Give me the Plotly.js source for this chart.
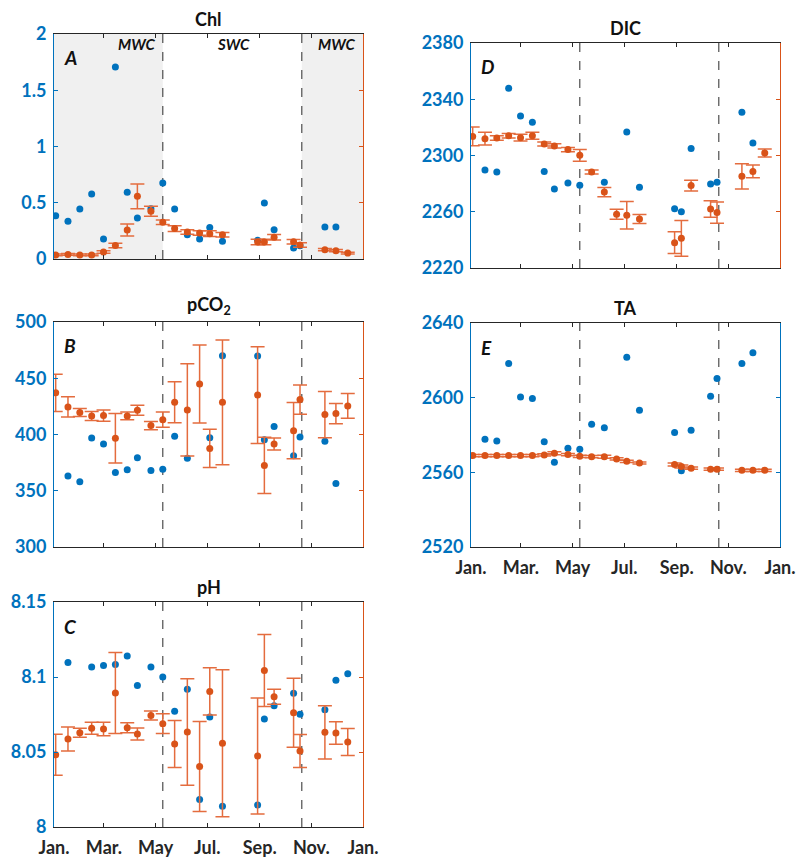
<!DOCTYPE html>
<html>
<head>
<meta charset="utf-8">
<script src="https://cdn.plot.ly/plotly-3.0.1.min.js"></script>
<style>html,body{margin:0;padding:0;background:#fff;}#chart{width:798px;height:860px;}</style>
</head>
<body>
<div id="chart"></div>
<script>
// ---------------- DATA ----------------
const monthTickDays = [0, 59, 120, 181, 243, 304, 365];
const monthTickText = ['Jan.', 'Mar.', 'May', 'Jul.', 'Sep.', 'Nov.', 'Jan.'];
const seasonBreaks = [128.5, 292.7];

// model/climatology days (orange, mean ± sd)
const orangeDays = [2, 16.5, 30.5, 44.5, 58.5, 72.5, 86.5, 98.5, 114.5, 128.5, 142.5, 157.5, 172, 184, 199, 240.5, 248.5, 260, 283, 290.6, 320, 333, 347];

// Chl
const chlDays = [2, 16.5, 30.5, 44.5, 58.5, 72.5, 86.5, 98.5, 114.5, 128.5, 142.5, 157.5, 172, 184, 199, 240.5, 248.5, 260, 283, 290.6, 320, 333];
const chlObs = [0.385, 0.335, 0.444, 0.578, 0.178, 1.707, 0.593, 0.364, 0.447, 0.676, 0.444, 0.216, 0.178, 0.279, 0.157, 0.166, 0.498, 0.26, 0.098, 0.118, 0.284, 0.284];
const chlMean = [0.036, 0.041, 0.036, 0.036, 0.062, 0.119, 0.258, 0.557, 0.424, 0.326, 0.27, 0.24, 0.231, 0.225, 0.216, 0.151, 0.151, 0.193, 0.154, 0.124, 0.083, 0.074, 0.053];
const chlSd = [0.008, 0.008, 0.008, 0.008, 0.012, 0.02, 0.053, 0.11, 0.045, 0.02, 0.025, 0.02, 0.02, 0.025, 0.02, 0.025, 0.025, 0.025, 0.02, 0.02, 0.01, 0.01, 0.008];

// pCO2
const pco2Days = [16.5, 30.5, 44.5, 58.5, 72.5, 86.5, 98.5, 114.5, 128.5, 142.5, 157.5, 184, 199, 240.5, 248.5, 260, 283, 290.6, 320, 333];
const pco2Obs = [363, 358, 396.9, 391.5, 366.3, 368.6, 379.3, 368, 369.2, 398.5, 378.8, 397, 470, 469.7, 395.4, 407, 381.1, 397.8, 393.9, 356.5];
const pco2Mean = [437, 424.5, 419.5, 416.5, 416.8, 396.6, 416.5, 421.5, 407.9, 413.2, 428.6, 421.8, 444.9, 387.6, 428.6, 435, 372.5, 391.5, 403.4, 431, 417.7, 418.6, 425.4];
const pco2Sd = [16.5, 9, 3.5, 4, 5, 22, 3.5, 4.5, 3.7, 6.8, 18.2, 41, 34.7, 17, 55.5, 43, 25, 5.3, 25, 13, 20.6, 9, 11];

// pH
const phDays = [16.5, 44.5, 58.5, 72.5, 86.5, 98.5, 114.5, 128.5, 142.5, 157.5, 172, 184, 199, 240.5, 248.5, 260, 283, 290.6, 320, 333, 347];
const phObs = [8.1096, 8.1067, 8.1076, 8.1084, 8.114, 8.0944, 8.1067, 8.1, 8.0771, 8.0918, 8.0184, 8.0733, 8.0138, 8.0147, 8.072, 8.0809, 8.0891, 8.0751, 8.0782, 8.0978, 8.1022];
const phMean = [8.0482, 8.0587, 8.0629, 8.0658, 8.0653, 8.0893, 8.0662, 8.062, 8.0744, 8.0689, 8.0553, 8.0633, 8.0404, 8.0904, 8.0558, 8.0473, 8.1044, 8.0869, 8.0762, 8.0507, 8.0631, 8.0627, 8.0567];
const phSd = [0.0137, 0.008, 0.003, 0.004, 0.0045, 0.027, 0.0033, 0.004, 0.003, 0.0066, 0.0157, 0.0355, 0.03, 0.0157, 0.049, 0.0387, 0.024, 0.005, 0.023, 0.011, 0.0178, 0.0075, 0.009];

// DIC
const dicDays = [16.5, 30.5, 44.5, 58.5, 72.5, 86.5, 98.5, 114.5, 128.5, 157.5, 184, 199, 240.5, 248.5, 260, 283, 290.6, 320, 333];
const dicObs = [2289.7, 2288.3, 2347.8, 2328.1, 2323.6, 2288.7, 2276.2, 2280.4, 2278.8, 2280.9, 2316.7, 2277.4, 2262.2, 2260, 2304.9, 2279.7, 2280.9, 2330.7, 2308.9];
const dicMean = [2313.6, 2312, 2312.4, 2314.1, 2312.7, 2314.1, 2308.2, 2306.8, 2304.2, 2300.1, 2288.3, 2274, 2258.2, 2257.5, 2254.9, 2238, 2241.1, 2278.6, 2262, 2259.4, 2285.2, 2288.7, 2301.8];
const dicSd = [6.6, 4.5, 1.6, 1.6, 2.4, 2.5, 1.4, 1.5, 1.5, 4.2, 1.4, 3.3, 3.6, 9.8, 3.2, 7.7, 12.7, 3.8, 5.9, 7.6, 9, 4.5, 2.8];

// TA
const taDays = [16.5, 30.5, 44.5, 58.5, 72.5, 86.5, 98.5, 114.5, 128.5, 142.5, 157.5, 184, 199, 240.5, 248.5, 260, 283, 290.6, 320, 333];
const taObs = [2577.7, 2576.8, 2618.3, 2600.3, 2599.6, 2576.4, 2565.4, 2572.9, 2572.3, 2585.7, 2583.9, 2621.7, 2593.2, 2581.4, 2560.8, 2582.5, 2600.7, 2610.3, 2618.3, 2624];
const taMean = [2569, 2569, 2569, 2569, 2569, 2569, 2569.3, 2570.2, 2569.5, 2568.6, 2568.4, 2568.4, 2567.2, 2565.9, 2565, 2564.2, 2563.1, 2562.2, 2561.7, 2561.7, 2561.1, 2561.1, 2561.1];
const taSd = [0.6, 0.6, 0.6, 0.6, 0.6, 0.6, 0.6, 0.8, 0.6, 0.6, 0.6, 0.8, 0.6, 0.6, 0.6, 0.8, 0.8, 0.6, 0.6, 0.6, 0.6, 0.6, 0.6];

const chlTicks = [0, 0.5, 1, 1.5, 2];
const chlTickText = ['0', '0.5', '1', '1.5', '2'];
const pco2Ticks = [300, 350, 400, 450, 500];
const phTicks = [8, 8.05, 8.1, 8.15];
const phTickText = ['8', '8.05', '8.1', '8.15'];
const dicTicks = [2220, 2260, 2300, 2340, 2380];
const taTicks = [2520, 2560, 2600, 2640];

// ---------------- STYLE / LAYOUT ----------------
const W = 798, H = 860;
const BLUE = '#0072BD', ORANGE = '#D95319', ERRC = '#E46C3E', DARK = '#262626';
const FONT = 'Lato, "Open Sans", sans-serif';
const px = v => v / W;
const py = v => 1 - v / H;

const panels = [
  {key: 'A', title: 'Chl', days: chlDays, obs: chlObs, mean: chlMean, sd: chlSd, range: [0, 2], ticks: chlTicks, tickText: chlTickText,
   box: [54, 363, 34, 259], months: false, rightColor: ORANGE},
  {key: 'B', title: 'pCO<sub>2</sub>', days: pco2Days, obs: pco2Obs, mean: pco2Mean, sd: pco2Sd, range: [300, 500], ticks: pco2Ticks, tickText: pco2Ticks.map(String),
   box: [54, 363, 322, 547], months: false, rightColor: ORANGE},
  {key: 'C', title: 'pH', days: phDays, obs: phObs, mean: phMean, sd: phSd, range: [8, 8.15], ticks: phTicks, tickText: phTickText,
   box: [54, 363, 602, 827], months: true, rightColor: ORANGE},
  {key: 'D', title: 'DIC', days: dicDays, obs: dicObs, mean: dicMean, sd: dicSd, range: [2220, 2380], ticks: dicTicks, tickText: dicTicks.map(String),
   box: [471, 780, 43, 268], months: false, rightColor: ORANGE},
  {key: 'E', title: 'TA', days: taDays, obs: taObs, mean: taMean, sd: taSd, range: [2520, 2640], ticks: taTicks, tickText: taTicks.map(String),
   box: [471, 780, 323, 547], months: true, rightColor: BLUE}
];

const traces = [];
const layout = {
  width: W, height: H,
  margin: {l: 0, r: 0, t: 0, b: 0},
  paper_bgcolor: '#fff', plot_bgcolor: 'rgba(0,0,0,0)',
  showlegend: false,
  font: {family: FONT, color: DARK},
  shapes: [], annotations: []
};

panels.forEach((p, i) => {
  const n = i + 1;
  const xs = n === 1 ? '' : String(n);
  const ys = n === 1 ? '' : String(n);
  const ovN = n + 5;
  const [x0, x1, y0, y1] = p.box;

  layout['xaxis' + xs] = {
    domain: [px(x0), px(x1)], anchor: 'y' + ys, range: [0, 365],
    tickvals: monthTickDays, ticktext: monthTickText, showticklabels: p.months,
    ticks: 'inside', ticklen: 4, tickwidth: 1, tickcolor: DARK,
    showline: true, linecolor: DARK, linewidth: 1, mirror: 'ticks',
    showgrid: false, zeroline: false, fixedrange: true,
    ticklabelstandoff: 4,
    tickfont: {family: FONT, size: 18, color: DARK, weight: 'bold'}
  };
  layout['yaxis' + ys] = {
    domain: [py(y1), py(y0)], anchor: 'x' + xs, range: p.range,
    tickvals: p.ticks, ticktext: p.tickText,
    ticks: 'inside', ticklen: 4, tickwidth: 1, tickcolor: BLUE,
    showline: true, linecolor: BLUE, linewidth: 1, mirror: p.rightColor === BLUE ? 'ticks' : false,
    showgrid: false, zeroline: false, fixedrange: true,
    ticklabelstandoff: 3,
    tickfont: {family: FONT, size: 18, color: BLUE, weight: 'bold'}
  };
  let orangeY = 'y' + ys;
  if (p.rightColor === ORANGE) {
    layout['yaxis' + ovN] = {
      overlaying: 'y' + ys, anchor: 'x' + xs, side: 'right', range: p.range,
      tickvals: p.ticks, showticklabels: false,
      ticks: 'inside', ticklen: 4, tickwidth: 1, tickcolor: ORANGE,
      showline: true, linecolor: ORANGE, linewidth: 1,
      showgrid: false, zeroline: false, fixedrange: true
    };
    orangeY = 'y' + ovN;
  }

  // season shading (Chl panel only)
  if (n === 1) {
    [[0, seasonBreaks[0]], [seasonBreaks[1], 365]].forEach(([a, b]) => {
      layout.shapes.push({type: 'rect', xref: 'x', yref: 'y domain', x0: a, x1: b, y0: 0, y1: 1,
        fillcolor: '#f0f0f0', line: {width: 0}, layer: 'below'});
    });
  }
  seasonBreaks.forEach(d => {
    layout.shapes.push({type: 'line', xref: 'x' + xs, yref: 'y' + ys + ' domain', x0: d, x1: d, y0: 0, y1: 1,
      line: {color: '#4d4d4d', width: 1.2, dash: 'dash'}, layer: 'below'});
  });

  traces.push({
    type: 'scatter', mode: 'markers', x: p.days, y: p.obs, xaxis: 'x' + xs, yaxis: 'y' + ys,
    marker: {color: BLUE, size: 7}, hoverinfo: 'skip'
  });
  traces.push({
    type: 'scatter', mode: 'markers', x: orangeDays, y: p.mean, xaxis: 'x' + xs, yaxis: orangeY,
    marker: {color: ORANGE, size: 7},
    error_y: {type: 'data', array: p.sd, visible: true, color: ERRC, thickness: 1.5, width: 7},
    hoverinfo: 'skip'
  });

  // title
  layout.annotations.push({xref: 'paper', yref: 'paper', x: px((x0 + x1) / 2), y: py(y0 - 2),
    xanchor: 'center', yanchor: 'bottom', showarrow: false, text: p.title,
    font: {family: FONT, size: 18, color: '#111', weight: 'bold'}});
  // panel letter
  layout.annotations.push({xref: 'paper', yref: 'paper', x: px(x0 + 8), y: py(y0 + 24),
    xanchor: 'left', yanchor: 'middle', showarrow: false, text: '<i>' + p.key + '</i>',
    font: {family: FONT, size: 19, color: '#111', weight: 'bold'}});
});

// season labels
[['MWC', 158, 'right'], ['SWC', 233, 'center'], ['MWC', 358, 'right']].forEach(([t, x, anc]) => {
  layout.annotations.push({xref: 'paper', yref: 'paper', x: px(x), y: py(44),
    xanchor: anc, yanchor: 'middle', showarrow: false, text: '<i>' + t + '</i>',
    font: {family: FONT, size: 15, color: '#111', weight: 'bold'}});
});

Plotly.newPlot('chart', traces, layout, {displayModeBar: false, staticPlot: true});
</script>
</body>
</html>
